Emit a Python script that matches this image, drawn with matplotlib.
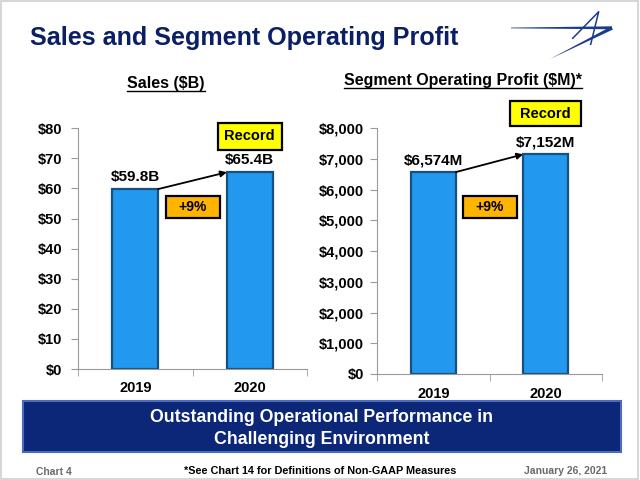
import matplotlib
matplotlib.use("Agg")
import matplotlib.pyplot as plt
from matplotlib.patches import Rectangle, Polygon
from matplotlib.lines import Line2D

# dados do slide
anos = ["2019", "2020"]
vendas = [59.8, 65.4]
vendas_rotulos = ["$59.8B", "$65.4B"]
lucro = [6574, 7152]
lucro_rotulos = ["$6,574M", "$7,152M"]
vendas_ticks = list(range(0, 90, 10))
lucro_ticks = list(range(0, 9000, 1000))
crescimento = ["+9%", "+9%"]

W, H = 640, 480
AZUL_BARRA = "#2298EE"
BORDA_BARRA = "#17507E"
CINZA = "#9A9A9A"
NAVY = "#0B1F66"

plt.rcParams["font.family"] = ["Liberation Sans", "DejaVu Sans"]
plt.rcParams["font.weight"] = "bold"

fig = plt.figure(figsize=(6.4, 4.8), dpi=100)


def fx(x):
    return x / W


def fy(y):
    return 1 - y / H


def caixa(ax, x, y, w, h, texto, cor, tamanho=10.5):
    cx, cy = fig.transFigure.inverted().transform(ax.transData.transform((x, y)))
    fig.add_artist(Rectangle((cx - w / 2 / W, cy - h / 2 / H), w / W, h / H,
                             transform=fig.transFigure, facecolor=cor,
                             edgecolor="black", linewidth=1.6, zorder=5))
    fig.text(cx, cy, texto, ha="center", va="center", fontsize=tamanho,
             fontweight="bold", color="black", zorder=6)


def painel(ret, valores, rotulos, ticks, fmt, ytick_pad):
    x0, y_top, x1, y_bot = ret
    ax = fig.add_axes([fx(x0), fy(y_bot), (x1 - x0) / W, (y_bot - y_top) / H])
    pos = list(range(len(valores)))
    ax.bar(pos, valores, width=0.4, color=AZUL_BARRA, edgecolor=BORDA_BARRA,
           linewidth=1.6, zorder=2)
    ax.set_xlim(-0.5, len(valores) - 0.5)
    ax.set_ylim(0, ticks[-1])
    ax.set_yticks(ticks)
    ax.set_yticklabels([fmt(t) for t in ticks])
    ax.set_xticks(pos)
    ax.set_xticklabels(anos)
    ax.set_xticks([-0.5, 0.5, 1.5], minor=True)
    ax.tick_params(axis="x", which="major", length=0, pad=9, labelsize=10.5)
    ax.tick_params(axis="x", which="minor", length=5, color=CINZA)
    ax.tick_params(axis="y", length=5, color=CINZA, pad=ytick_pad, labelsize=10.5)
    for lab in ax.get_xticklabels() + ax.get_yticklabels():
        lab.set_fontweight("bold")
    for s in ["top", "right"]:
        ax.spines[s].set_visible(False)
    for s in ["left", "bottom"]:
        ax.spines[s].set_color(CINZA)
    ax.patch.set_alpha(0)

    for i, (v, r) in enumerate(zip(valores, rotulos)):
        ax.annotate(r, (i, v), xytext=(0, 8), textcoords="offset pixels",
                    ha="center", va="baseline", fontsize=11, fontweight="bold")

    # seta de crescimento
    ax.annotate("", xy=(1 - 0.2, valores[1]), xytext=(0.2, valores[0]),
                arrowprops=dict(arrowstyle="-|>", color="black", lw=1.3,
                                mutation_scale=9, shrinkA=0, shrinkB=0), zorder=4)
    return ax


ax1 = painel((78, 128.3, 307, 369), vendas, vendas_rotulos, vendas_ticks,
             lambda t: f"${t}", 6.3)
ax2 = painel((377.3, 128.3, 601.7, 374), lucro, lucro_rotulos, lucro_ticks,
             lambda t: f"${t:,}", 4.8)

caixa(ax1, 1, vendas[1] + 0.15 * vendas_ticks[-1], 64, 27, "Record", "#FFFF00")
caixa(ax2, 1, lucro[1] + 0.166 * lucro_ticks[-1], 71, 25, "Record", "#FFFF00")
caixa(ax1, 0.5, 0.674 * vendas_ticks[-1], 54, 22, crescimento[0], "#FFB400", 10)
caixa(ax2, 0.5, 0.68 * lucro_ticks[-1], 54, 22, crescimento[1], "#FFB400", 10)

# titulos dos graficos sublinhados
renderer = fig.canvas.get_renderer()
for x, y, txt in [(166, 88, "Sales ($B)"), (463, 85, "Segment Operating Profit ($M)*")]:
    t = fig.text(fx(x), fy(y), txt, ha="center", va="baseline", fontsize=11.5,
                 fontweight="bold", color="black")
    bb = t.get_window_extent(renderer)
    fig.add_artist(Line2D([bb.x0 / W, bb.x1 / W], [fy(y + 2.5)] * 2,
                          transform=fig.transFigure, color="black", lw=1))

# titulo do slide
fig.text(fx(30), fy(45), "Sales and Segment Operating Profit", ha="left",
         va="baseline", fontsize=18.1, fontweight="bold", color=NAVY)

# logo estilizado
cor_logo = "#1B3C8C"
fig.add_artist(Polygon([(fx(511), fy(27.6)), (fx(612), fy(26.3)), (fx(612), fy(29.3)),
                        (fx(511), fy(28.3))], closed=True, transform=fig.transFigure,
                       facecolor=cor_logo, edgecolor="none"))
fig.add_artist(Polygon([(fx(550), fy(59)), (fx(611), fy(26.5)), (fx(613), fy(29.5))],
                       closed=True, transform=fig.transFigure,
                       facecolor=cor_logo, edgecolor="none"))
fig.add_artist(Line2D([fx(572.7), fx(598.7), fx(590.7)], [fy(38.3), fy(11.7), fy(44.3)],
                      transform=fig.transFigure, color=cor_logo, lw=1.1))

# faixa inferior
fig.add_artist(Rectangle((fx(22.7), fy(452.3)), (621 - 22.7) / W, (452.3 - 400.7) / H,
                         transform=fig.transFigure, facecolor="#0C2777",
                         edgecolor="#4A6BC0", linewidth=1.5))
fig.text(fx(322), fy(422.3), "Outstanding Operational Performance in", ha="center",
         va="baseline", fontsize=12.8, fontweight="bold", color="white")
fig.text(fx(322), fy(443.5), "Challenging Environment", ha="center",
         va="baseline", fontsize=12.8, fontweight="bold", color="white")

# rodape
fig.text(fx(36), fy(475), "Chart 4", ha="left", va="baseline", fontsize=7.5,
         fontweight="bold", color="#6A6A6A")
fig.text(fx(320), fy(474), "*See Chart 14 for Definitions of Non-GAAP Measures",
         ha="center", va="baseline", fontsize=7.8, fontweight="bold", color="black")
fig.text(fx(607), fy(474), "January 26, 2021", ha="right", va="baseline",
         fontsize=7.5, fontweight="bold", color="#6A6A6A")

# moldura do slide
fig.add_artist(Rectangle((fx(0.5), fy(478.5)), 637 / W, 478 / H,
                         transform=fig.transFigure, facecolor="none",
                         edgecolor="#CFCFCF", linewidth=1.2))

fig.savefig("out.png", dpi=100)
plt.close(fig)
